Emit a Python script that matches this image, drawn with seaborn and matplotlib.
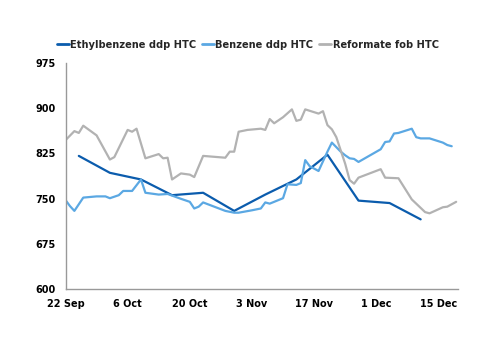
import matplotlib
matplotlib.use("Agg")
import matplotlib.pyplot as plt
import seaborn as sns
import pandas as pd

start = pd.Timestamp("2023-09-22")

eb_days = [3, 10, 17, 24, 31, 38, 45, 52, 59, 66, 73, 80]
eb_vals = [821, 793, 782, 756, 760, 730, 757, 782, 823, 747, 743, 716]

bz_days = [0, 1, 2, 4, 7, 9, 10, 12, 13, 15, 17, 18, 21, 23, 26, 28, 29, 30, 31,
           36, 38, 39, 42, 44, 45, 46, 49, 50, 52, 53, 54, 55, 57, 59, 60, 62, 63,
           64, 65, 66, 71, 72, 73, 74, 75, 78, 79, 80, 82, 85, 86, 87]
bz_vals = [748, 738, 730, 752, 754, 754, 751, 756, 763, 763, 782, 760, 757, 758, 750, 745, 734, 737, 744,
           730, 727, 727, 731, 734, 744, 742, 751, 774, 773, 776, 814, 804, 796, 828, 843, 828, 822,
           817, 816, 811, 832, 844, 845, 858, 859, 866, 852, 850, 850, 843, 839, 837]

rf_days = [0, 2, 3, 4, 7, 10, 11, 14, 15, 16, 18, 21, 22, 23, 24, 26, 28, 29, 31,
           36, 37, 38, 39, 41, 44, 45, 46, 47, 49, 51, 52, 53, 54, 57, 58, 59, 60,
           61, 62, 63, 64, 65, 66, 71, 72, 75, 78, 79, 81, 82, 85, 86, 88]
rf_vals = [847, 862, 859, 871, 855, 815, 819, 864, 861, 866, 817, 824, 817, 818, 782, 792, 790, 786, 821,
           818, 828, 828, 861, 864, 866, 864, 882, 875, 885, 898, 879, 881, 898, 891, 895, 872, 865,
           852, 830, 808, 781, 775, 785, 799, 785, 784, 749, 742, 728, 726, 736, 737, 745]

names = ["Ethylbenzene ddp HTC", "Benzene ddp HTC", "Reformate fob HTC"]
colors = ["#0B5CAD", "#5BA8E3", "#B2B2B2"]

tick_labels = ["22 Sep", "6 Oct", "20 Oct", "3 Nov", "17 Nov", "1 Dec", "15 Dec"]
y_ticks = [600, 675, 750, 825, 900, 975]

frames = []
for name, days, vals in zip(names, [eb_days, bz_days, rf_days], [eb_vals, bz_vals, rf_vals]):
    frames.append(pd.DataFrame({
        "date": [start + pd.Timedelta(days=d) for d in days],
        "value": vals,
        "series": name,
    }))
df = pd.concat(frames, ignore_index=True)

sns.set_style("white")
plt.rcParams["font.family"] = ["DejaVu Sans"]
plt.rcParams["font.weight"] = "bold"

fig = plt.figure(figsize=(5.0, 3.53), dpi=100)
ax = fig.add_axes([0.131, 0.18, 0.784, 0.642])

sns.lineplot(data=df, x="date", y="value", hue="series", hue_order=names,
             palette=colors, linewidth=1.6, ax=ax, legend=True)

ax.set_ylim(600, 975)
ax.set_yticks(y_ticks)
ax.set_xlim(start, start + pd.Timedelta(days=88.3))
tick_dates = [start + pd.Timedelta(days=14 * i) for i in range(len(tick_labels))]
ax.set_xticks(tick_dates)
ax.set_xticklabels(tick_labels)
ax.set_xlabel("")
ax.set_ylabel("")

for s in ["top", "right"]:
    ax.spines[s].set_visible(False)
for s in ["left", "bottom"]:
    ax.spines[s].set_color("#999999")
    ax.spines[s].set_linewidth(1.0)
ax.tick_params(axis="both", which="both", direction="out", length=4, width=1,
               color="#999999", labelsize=7, labelcolor="black", pad=3)
for lab in ax.get_xticklabels() + ax.get_yticklabels():
    lab.set_fontweight("bold")

leg = ax.legend(loc="lower center", bbox_to_anchor=(0.465, 1.04), ncol=3, frameon=False,
                handlelength=1.2, handletextpad=0.15, columnspacing=0.6,
                borderaxespad=0, prop={"weight": "bold", "size": 7.1})
for line in leg.get_lines():
    line.set_linewidth(2)

fig.savefig("out.png", dpi=100)
